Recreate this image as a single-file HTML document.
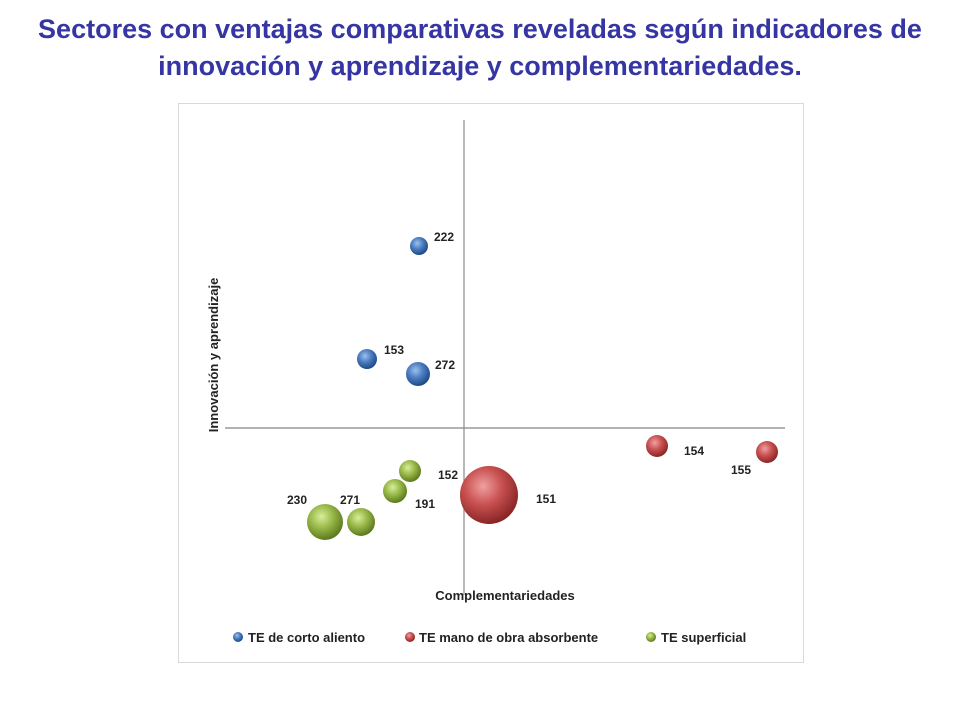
<!DOCTYPE html>
<html><head><meta charset="utf-8"><style>
body{margin:0;background:#fff;width:960px;height:720px;overflow:hidden;font-family:"Liberation Sans",sans-serif}
#title{position:absolute;left:0;top:11px;width:960px;text-align:center;color:#3535a3;font-weight:bold;font-size:27px;line-height:37px;white-space:nowrap}
</style></head><body>
<div id="title">Sectores con ventajas comparativas reveladas según indicadores de<br>innovación y aprendizaje y complementariedades.</div>
<svg id="chart" width="960" height="720" style="position:absolute;left:0;top:0">
<defs>
<radialGradient id="gb" cx="40%" cy="35%" r="65%"><stop offset="0" stop-color="#9cc0ee"/><stop offset="0.5" stop-color="#4a7cc0"/><stop offset="1" stop-color="#1f4a86"/></radialGradient>
<radialGradient id="gr" cx="40%" cy="35%" r="65%"><stop offset="0" stop-color="#f0a0a0"/><stop offset="0.5" stop-color="#c85050"/><stop offset="1" stop-color="#8a2626"/></radialGradient>
<radialGradient id="gg" cx="40%" cy="35%" r="65%"><stop offset="0" stop-color="#d8ee9a"/><stop offset="0.5" stop-color="#98b848"/><stop offset="1" stop-color="#5d7a1e"/></radialGradient>
</defs>
<rect x="178.5" y="103.5" width="625" height="559" fill="#fff" stroke="#d9d9d9"/>
<line x1="225" y1="428" x2="785" y2="428" stroke="#9a9a9a" stroke-width="1.5"/>
<line x1="464" y1="120" x2="464" y2="595" stroke="#8a8a8a" stroke-width="1.2"/>
<text x="505" y="600" text-anchor="middle" font-size="13" font-weight="bold" fill="#222">Complementariedades</text>
<text transform="translate(218,355) rotate(-90)" text-anchor="middle" font-size="13" font-weight="bold" fill="#222">Innovación y aprendizaje</text>
<g id="marks"></g>
<g font-size="13" font-weight="bold" fill="#222">
<circle cx="238" cy="637" r="5" fill="url(#gb)"/><text x="248" y="642">TE de corto aliento</text>
<circle cx="410" cy="637" r="5" fill="url(#gr)"/><text x="419" y="642">TE mano de obra absorbente</text>
<circle cx="651" cy="637" r="5" fill="url(#gg)"/><text x="661" y="642">TE superficial</text>
</g>
</svg>
<script>
const labels=["222","153","272","154","155","151","152","191","230","271"];
const series=["b","b","b","r","r","r","g","g","g","g"];
const xVals=[-0.45,-0.97,-0.46,1.93,3.03,0.25,-0.54,-0.69,-1.39,-1.03];
const yVals=[1.82,0.69,0.54,-0.18,-0.24,-0.67,-0.43,-0.63,-0.94,-0.94];
const sizes=[81,100,144,121,121,841,121,144,324,196];
const labelDx=[25,27,27,37,-26,57,38,30,-28,-11];
const labelDy=[-9,-9,-9,5,18,4,4,13,-22,-22];
function xs(v){return 464+v*100;}
function ys(v){return 428-v*100;}
function rs(s){return Math.sqrt(s);}
const g=document.getElementById('marks');const ns='http://www.w3.org/2000/svg';
for(let i=0;i<labels.length;i++){
 const c=document.createElementNS(ns,'circle');
 c.setAttribute('cx',xs(xVals[i]));c.setAttribute('cy',ys(yVals[i]));c.setAttribute('r',rs(sizes[i]));
 c.setAttribute('fill','url(#g'+series[i]+')');
 
 
 g.appendChild(c);
 const t=document.createElementNS(ns,'text');
 t.setAttribute('x',xs(xVals[i])+labelDx[i]);t.setAttribute('y',ys(yVals[i])+labelDy[i]+4);
 t.setAttribute('text-anchor','middle');t.setAttribute('font-size','12');t.setAttribute('font-weight','bold');t.setAttribute('fill','#222');
 t.textContent=labels[i];
 
 
 g.appendChild(t);
}
</script>
</body></html>
